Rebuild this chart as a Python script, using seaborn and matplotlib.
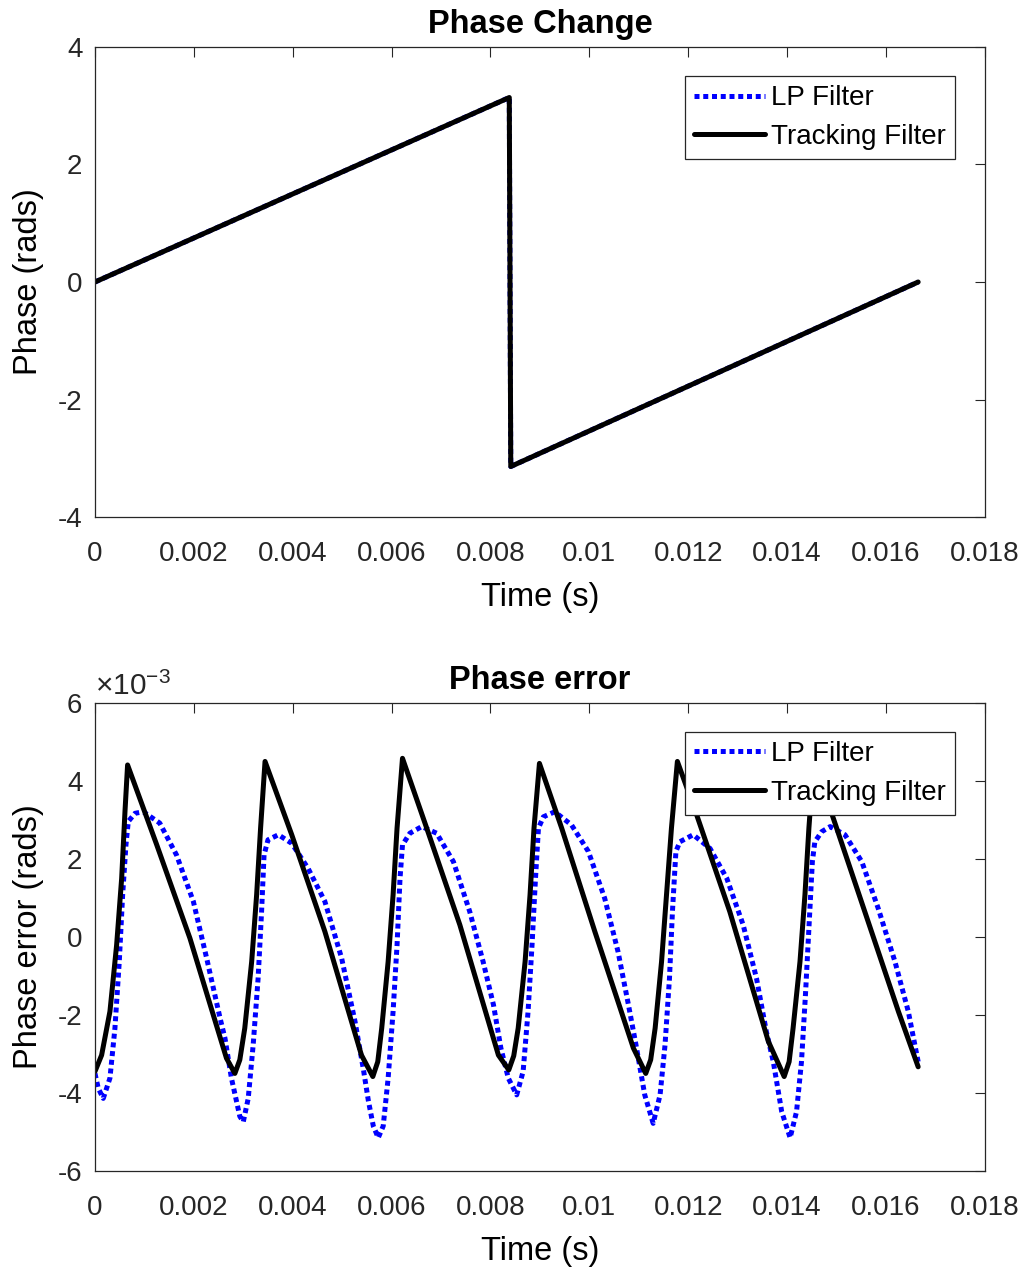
import numpy as np
import pandas as pd
import matplotlib
matplotlib.use("Agg")
import matplotlib.pyplot as plt
from matplotlib.ticker import FuncFormatter, MultipleLocator
import seaborn as sns

# ---- Phase change over one 60 Hz period (rad) ----
phase_t = [0.0, 0.00838, 0.00841, 0.01665]
phase_lp = [0.0, 3.14, -3.14, 0.0]
phase_track = [0.0, 3.14, -3.14, 0.0]

# ---- Phase error, tracking filter (time in s, error in mrad) ----
track_t = [
    0.0, 0.000135, 0.000303, 0.000438, 0.00054, 0.000607, 0.00066, 0.00125, 0.00192, 0.00266,
    0.00283, 0.00293, 0.00303, 0.00317, 0.00327, 0.00335, 0.00344, 0.00398, 0.00465, 0.00539,
    0.00562, 0.00572, 0.0058, 0.00593, 0.00603, 0.00611, 0.00622, 0.00671, 0.00738, 0.00816,
    0.00837, 0.00847, 0.00856, 0.0087, 0.0088, 0.00888, 0.00899, 0.00944, 0.01011, 0.01089,
    0.01114, 0.01124, 0.01133, 0.01146, 0.01156, 0.01166, 0.01178, 0.01217, 0.01284, 0.01362,
    0.01394, 0.01404, 0.01412, 0.01426, 0.01436, 0.01444, 0.01454, 0.0149, 0.01557, 0.01625,
    0.01665,
]
track_err = [
    -3.45, -3.03, -1.91, -0.21, 1.50, 3.21, 4.41, 2.36, -0.03, -3.11,
    -3.50, -3.15, -2.34, -0.63, 1.08, 2.79, 4.50, 2.62, 0.14, -3.03,
    -3.58, -3.20, -2.34, -0.63, 1.08, 2.79, 4.58, 2.79, 0.31, -3.03,
    -3.41, -3.05, -2.34, -0.63, 1.08, 2.79, 4.45, 2.79, 0.14, -2.85,
    -3.50, -3.15, -2.34, -0.63, 1.08, 2.79, 4.50, 3.13, 0.65, -2.68,
    -3.58, -3.20, -2.34, -0.63, 1.08, 2.79, 4.55, 3.17, 0.65, -1.91,
    -3.33,
]

# ---- Phase error, low-pass filter (time in s, error in mrad) ----
lp_t = [
    0.0, 0.000067, 0.000168, 0.000303, 0.000404, 0.000492, 0.00056, 0.000627, 0.000674,
    0.00081, 0.000977, 0.00131, 0.00165, 0.00199, 0.00226, 0.00253, 0.00263,
    0.00276, 0.00293, 0.003, 0.0031, 0.0032, 0.0033, 0.00337, 0.00342, 0.0035, 0.00371,
    0.00398, 0.00431, 0.00465, 0.00499, 0.00526, 0.00543,
    0.00553, 0.00563, 0.00573, 0.00583, 0.00593, 0.00603, 0.00611, 0.00617, 0.00622,
    0.00637, 0.00661, 0.00691, 0.00725, 0.00758, 0.00785, 0.00806, 0.00821,
    0.00836, 0.00853, 0.00866, 0.00876, 0.00884, 0.00891, 0.00897, 0.00907, 0.0093,
    0.00964, 0.00998, 0.01031, 0.01058, 0.01079, 0.01094,
    0.01112, 0.01129, 0.01143, 0.01153, 0.01162, 0.01168, 0.01175, 0.01183, 0.0121,
    0.01244, 0.01278, 0.01311, 0.01338, 0.01358,
    0.01372, 0.01389, 0.01406, 0.01419, 0.01429, 0.01437, 0.01444, 0.01451, 0.01456,
    0.0147, 0.01487, 0.01517, 0.01551, 0.01584, 0.01618, 0.01645, 0.01665,
]
lp_err = [
    -3.50, -3.88, -4.14, -3.62, -2.34, -0.63, 1.08, 2.36, 2.96,
    3.17, 3.21, 2.92, 2.10, 0.91, -0.55, -2.08, -2.60,
    -3.62, -4.60, -4.74, -4.14, -2.77, -1.06, 0.65, 2.10, 2.49, 2.62,
    2.40, 1.76, 0.91, -0.55, -2.17, -3.40,
    -4.20, -4.85, -5.15, -4.85, -3.62, -1.91, -0.21, 1.50, 2.36,
    2.66, 2.83, 2.66, 1.93, 0.65, -0.63, -1.74, -2.85,
    -3.62, -4.05, -3.45, -1.91, -0.21, 1.50, 2.79, 3.08, 3.21,
    2.87, 2.19, 0.99, -0.38, -1.74, -2.75,
    -4.05, -4.78, -4.05, -2.77, -1.06, 0.65, 2.19, 2.44, 2.62,
    2.27, 1.50, 0.31, -1.06, -2.43,
    -3.20, -4.48, -5.15, -4.48, -3.20, -1.49, 0.22, 1.93, 2.44,
    2.70, 2.83, 2.62, 1.93, 0.74, -0.63, -1.91, -3.20,
]

sns.set_theme(style="white")
plt.rcParams["font.family"] = ["Liberation Sans", "DejaVu Sans"]
plt.rcParams["mathtext.fontset"] = "custom"
plt.rcParams["mathtext.rm"] = "Liberation Sans"
plt.rcParams["axes.unicode_minus"] = False

EDGE = "#262626"
LW = 3.6
DOTS = (0, (1.0, 0.75))

fig = plt.figure(figsize=(10.31, 12.7), dpi=100)
ax1 = fig.add_axes([0.0921, 0.5929, 0.8632, 0.3701])
ax2 = fig.add_axes([0.0921, 0.0780, 0.8632, 0.3685])

top = pd.DataFrame({"t": phase_t, "lp": phase_lp, "track": phase_track})
sns.lineplot(data=top, x="t", y="lp", ax=ax1, color="blue", lw=LW, linestyle=DOTS,
             dash_capstyle="butt", sort=False, estimator=None, label="LP Filter")
sns.lineplot(data=top, x="t", y="track", ax=ax1, color="black", lw=LW,
             sort=False, estimator=None, label="Tracking Filter")

lp_df = pd.DataFrame({"t": lp_t, "err": np.array(lp_err) * 1e-3})
tr_df = pd.DataFrame({"t": track_t, "err": np.array(track_err) * 1e-3})
sns.lineplot(data=lp_df, x="t", y="err", ax=ax2, color="blue", lw=LW, linestyle=DOTS,
             dash_capstyle="butt", sort=False, estimator=None, label="LP Filter")
sns.lineplot(data=tr_df, x="t", y="err", ax=ax2, color="black", lw=LW,
             sort=False, estimator=None, label="Tracking Filter")

xfmt = FuncFormatter(lambda v, p: "%g" % round(v, 6))

for ax in (ax1, ax2):
    ax.set_xlim(0, 0.018)
    ax.xaxis.set_major_locator(MultipleLocator(0.002))
    ax.xaxis.set_major_formatter(xfmt)
    ax.set_xlabel("Time (s)", fontsize=23.5, color="black", labelpad=11)
    ax.tick_params(axis="both", direction="in", length=7, width=0.8, colors=EDGE,
                   labelsize=20, top=True, right=True)
    ax.tick_params(axis="x", pad=17)
    ax.tick_params(axis="y", pad=9)
    for s in ax.spines.values():
        s.set_color(EDGE)
        s.set_linewidth(0.9)
        s.set_visible(True)
    leg = ax.legend(loc="upper right", fontsize=20, frameon=True, fancybox=False,
                    framealpha=1, edgecolor=EDGE, handlelength=2.55, handletextpad=0.22,
                    borderpad=0.33, labelspacing=0.46, borderaxespad=0,
                    bbox_to_anchor=(0.966, 0.938))
    leg.get_frame().set_linewidth(0.9)
    leg.set_zorder(10)
    for txt in leg.get_texts():
        txt.set_color("black")

ax1.set_ylim(-4, 4)
ax1.yaxis.set_major_locator(MultipleLocator(2))
ax1.set_ylabel("Phase (rads)", fontsize=23.5, color="black", labelpad=10)
ax1.set_title("Phase Change", fontsize=23.5, fontweight="bold", color="black", pad=10)

ax2.set_ylim(-6e-3, 6e-3)
ax2.yaxis.set_major_locator(MultipleLocator(2e-3))
ax2.yaxis.set_major_formatter(FuncFormatter(lambda v, p: "%g" % round(v * 1e3, 6)))
ax2.set_ylabel("Phase error (rads)", fontsize=23.5, color="black", labelpad=10)
ax2.set_title("Phase error", fontsize=23.5, fontweight="bold", color="black", pad=10)
ax2.text(0.0, 1.004, r"$\times$10$^{\mathrm{-3}}$", transform=ax2.transAxes,
         fontsize=21.5, ha="left", va="bottom", color=EDGE)

fig.savefig("out.png", dpi=100)
